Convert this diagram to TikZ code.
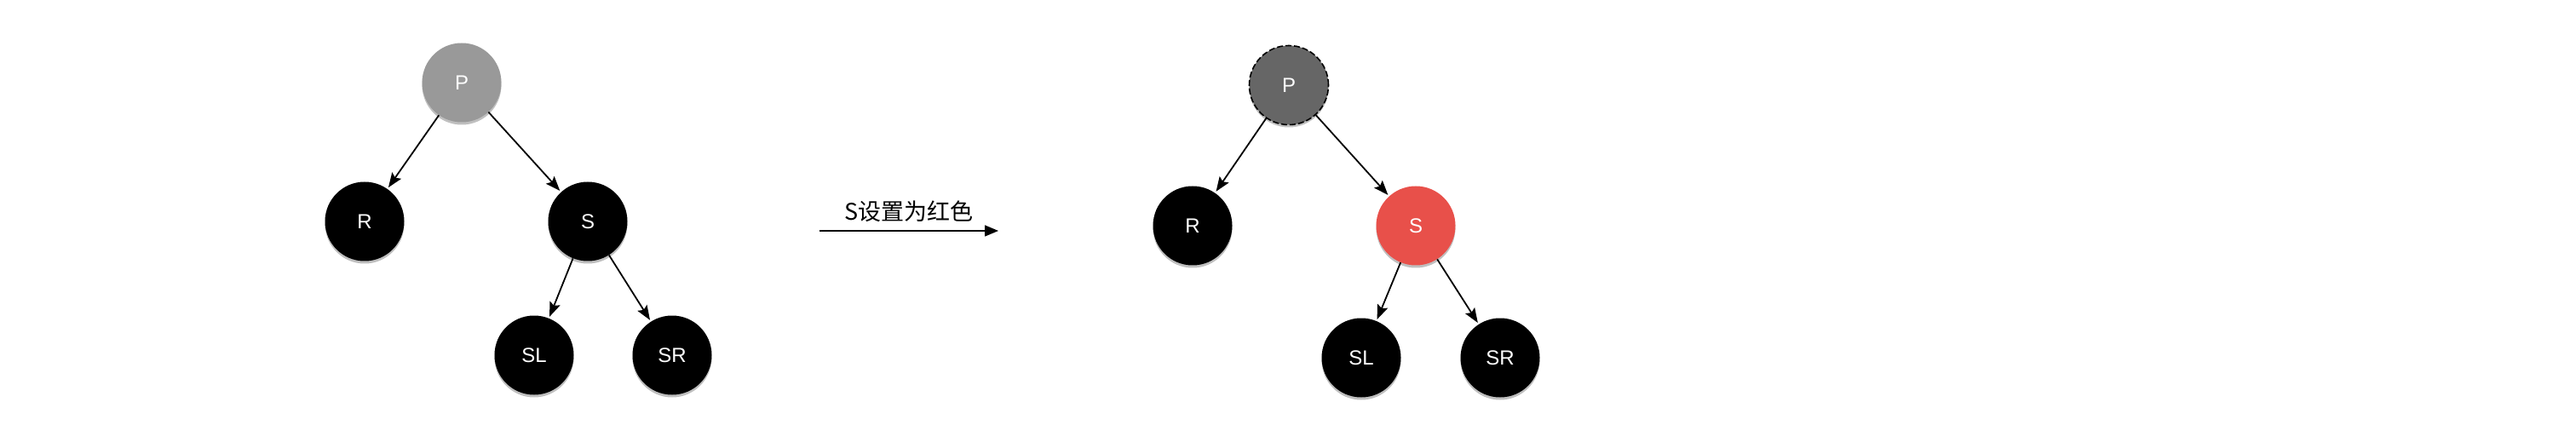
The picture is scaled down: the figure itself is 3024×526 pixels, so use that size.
\documentclass[tikz,border=0pt]{standalone}
\usepackage{fontspec}
\setmainfont{Liberation Sans}
\newfontfamily\cjk{Noto Sans CJK SC}
\usetikzlibrary{arrows.meta,shadows}
\definecolor{pgray}{RGB}{153,153,153}
\definecolor{pdark}{RGB}{102,102,102}
\definecolor{sred}{RGB}{232,80,74}
\begin{document}
\begin{tikzpicture}[x=1pt,y=-1pt,
  rbnode/.style={circle,minimum size=93pt,inner sep=0pt,text=white,
    font=\fontsize{24}{28}\selectfont,
    drop shadow={shadow xshift=0pt,shadow yshift=-3pt,opacity=0.25,fill=black}},
  blk/.style={rbnode,fill=black},
  edge/.style={line width=1.8pt,-{Stealth[length=17pt,width=13pt,inset=3pt]},shorten >=2pt}]
\useasboundingbox (0,0) rectangle (3024,526);
% left tree
\node[rbnode,fill=pgray] (P1) at (542,97) {P};
\node[blk] (R1) at (428,260) {R};
\node[blk] (S1) at (690,260) {S};
\node[blk] (SL1) at (627,417) {SL};
\node[blk] (SR1) at (789,417) {SR};
\draw[edge] (P1) -- (R1);
\draw[edge] (P1) -- (S1);
\draw[edge] (S1) -- (SL1);
\draw[edge] (S1) -- (SR1);
% transition arrow
\coordinate (a1) at (962,271);
\coordinate (a2) at (1172,271);
\draw[line width=1.5pt,-{Triangle[length=16pt,width=13pt]}] (a1) -- (a2)
  node[midway,above=6pt,font=\cjk\fontsize{27}{30}\selectfont] (lab) {S设置为红色};
% right tree
\node[rbnode,fill=pdark,draw=black,line width=1.6pt,dash pattern=on 7pt off 3pt] (P2) at (1513,100) {P};
\node[blk] (R2) at (1400,265) {R};
\node[rbnode,fill=sred] (S2) at (1662,265) {S};
\node[blk] (SL2) at (1598,420) {SL};
\node[blk] (SR2) at (1761,420) {SR};
\draw[edge] (P2) -- (R2);
\draw[edge] (P2) -- (S2);
\draw[edge] (S2) -- (SL2);
\draw[edge] (S2) -- (SR2);
\end{tikzpicture}
\end{document}
